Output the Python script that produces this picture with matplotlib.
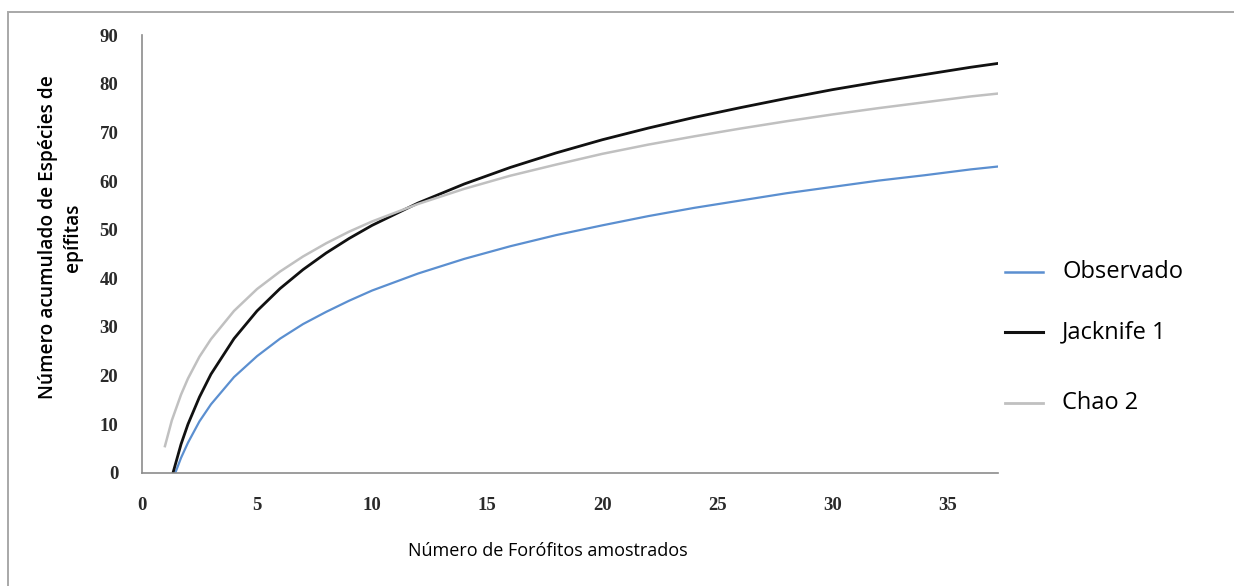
import numpy as np
import matplotlib.pyplot as plt
from matplotlib.patches import Rectangle
from matplotlib.lines import Line2D

# Curvas de acumulação de espécies (valores lidos por forófito amostrado)
x_obs = [1.45, 1.7, 2, 2.5, 3, 4, 5, 6, 7, 8, 9, 10, 12, 14, 16, 18, 20, 22, 24, 26, 28, 30, 32, 34, 36, 37.2]
observado = [0, 3.1, 6.2, 10.6, 14.1, 19.7, 24.0, 27.6, 30.6, 33.1, 35.4, 37.5, 41.0, 44.0, 46.6, 48.9,
             50.9, 52.8, 54.5, 56.0, 57.5, 58.8, 60.1, 61.2, 62.4, 63.0]

x_jack = [1.35, 1.7, 2, 2.5, 3, 4, 5, 6, 7, 8, 9, 10, 12, 14, 16, 18, 20, 22, 24, 26, 28, 30, 32, 34, 36, 37.2]
jacknife1 = [0, 5.9, 10.0, 15.6, 20.3, 27.6, 33.3, 37.9, 41.8, 45.2, 48.2, 50.9, 55.5, 59.4, 62.8, 65.8,
             68.5, 70.9, 73.1, 75.1, 77.0, 78.8, 80.4, 81.9, 83.4, 84.2]

x_chao = [1.0, 1.3, 1.7, 2, 2.5, 3, 4, 5, 6, 7, 8, 9, 10, 12, 14, 16, 18, 20, 22, 24, 26, 28, 30, 32, 34, 36, 37.2]
chao2 = [5.5, 10.8, 16.1, 19.4, 23.9, 27.5, 33.3, 37.8, 41.4, 44.5, 47.2, 49.6, 51.7, 55.3, 58.4, 61.1, 63.4,
         65.6, 67.5, 69.2, 70.8, 72.3, 73.7, 75.0, 76.2, 77.4, 78.0]

x_ticks = [0, 5, 10, 15, 20, 25, 30, 35]
y_ticks = [0, 10, 20, 30, 40, 50, 60, 70, 80, 90]

series = [('Observado', '#5b8fd0', 1.6), ('Jacknife 1', '#111111', 2.0), ('Chao 2', '#c0c0c0', 1.8)]

fig = plt.figure(figsize=(12.34, 5.86), dpi=100)
ax = fig.add_axes([0.115, 0.193, 0.694, 0.747])

for (name, col, lw), xs, ys in zip(series, [x_obs, x_jack, x_chao], [observado, jacknife1, chao2]):
    ax.plot(xs, ys, color=col, lw=lw, label=name)

ax.set_xlim(0, 37.2)
ax.set_ylim(0, 90)
ax.set_xticks(x_ticks)
ax.set_yticks(y_ticks)
ax.tick_params(length=0, labelsize=13.5)
ax.tick_params(axis='y', pad=17)
ax.tick_params(axis='x', pad=17)
for lab in ax.get_xticklabels() + ax.get_yticklabels():
    lab.set_family('Liberation Serif')
    lab.set_weight('bold')
    lab.set_color('#2a2a2a')
for s in ['top', 'right']:
    ax.spines[s].set_visible(False)
for s in ['left', 'bottom']:
    ax.spines[s].set_color('#8c8c8c')
    ax.spines[s].set_linewidth(1.2)

fig.text(0.049, 0.595, 'Número acumulado de Espécies de\nepífitas', rotation=90,
         ha='center', va='center', family='Open Sans', weight='semibold', fontsize=13.8,
         multialignment='center', linespacing=1.3)
fig.text(0.444, 0.06, 'Número de Forófitos amostrados', ha='center', va='center',
         family='Open Sans', fontsize=13)

# legenda desenhada à mão (espaçamento irregular entre as entradas)
leg_y = [272, 332, 403]
for (name, col, lw), yp in zip(series, leg_y):
    yf = 1 - yp / 586
    fig.add_artist(Line2D([1005 / 1234, 1043 / 1234], [yf, yf], color=col, lw=lw + 0.2,
                          transform=fig.transFigure))
    fig.text(1062 / 1234, yf, name, ha='left', va='center', family='Open Sans', fontsize=17)

# moldura externa do gráfico
fig.patches.append(Rectangle((0.0068, -0.2), 1.2, 1.1795, transform=fig.transFigure,
                             fill=False, edgecolor='#a8a8a8', lw=1.4))

fig.savefig('out.png', dpi=100)
